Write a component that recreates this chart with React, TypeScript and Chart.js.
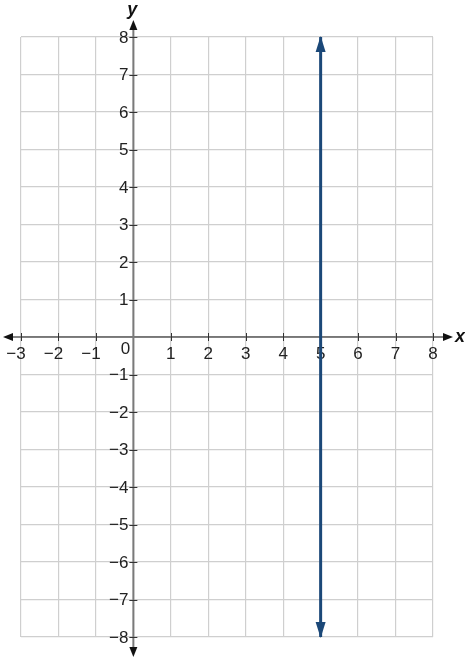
import React, { useEffect, useRef } from "react";
import { Chart, registerables } from "chart.js";

Chart.register(...registerables);

// Axis ranges
const xMin = -3;
const xMax = 8;
const yMin = -8;
const yMax = 8;

// Tick labels
const xTickValues = [-3, -2, -1, 1, 2, 3, 4, 5, 6, 7, 8];
const yTickValues = [-8, -7, -6, -5, -4, -3, -2, -1, 1, 2, 3, 4, 5, 6, 7, 8];
const originLabel = "0";
const xAxisTitle = "x";
const yAxisTitle = "y";

// Series: vertical line x = 5
const lineXs = [5, 5];
const lineYs = [-8, 8];

const LINE_COLOR = "#1b4878";
const GRID_COLOR = "#cfcfcf";
const FONT = "Liberation Sans, Arial, sans-serif";

const fmt = (v: number) => (v < 0 ? "\u2212" + Math.abs(v) : String(v));

const axesPlugin = {
  id: "axesPlugin",
  beforeDatasetsDraw(chart: any) {
    const { ctx, chartArea, scales } = chart;
    const xs = scales.x;
    const ys = scales.y;
    const x0 = xs.getPixelForValue(0);
    const y0 = ys.getPixelForValue(0);
    ctx.save();
    // x axis
    const xl = chartArea.left - 18;
    const xr = chartArea.right + 20;
    ctx.strokeStyle = "#5a5a5a";
    ctx.lineWidth = 1.5;
    ctx.beginPath();
    ctx.moveTo(xl + 6, y0);
    ctx.lineTo(xr - 6, y0);
    ctx.stroke();
    ctx.fillStyle = "#111";
    ctx.beginPath();
    ctx.moveTo(xl, y0);
    ctx.lineTo(xl + 10, y0 - 4);
    ctx.lineTo(xl + 10, y0 + 4);
    ctx.closePath();
    ctx.fill();
    ctx.beginPath();
    ctx.moveTo(xr, y0);
    ctx.lineTo(xr - 10, y0 - 4);
    ctx.lineTo(xr - 10, y0 + 4);
    ctx.closePath();
    ctx.fill();
    // y axis
    const yt = chartArea.top - 17;
    const yb = chartArea.bottom + 20;
    ctx.strokeStyle = "#7a7a7a";
    ctx.lineWidth = 2;
    ctx.beginPath();
    ctx.moveTo(x0, yt + 6);
    ctx.lineTo(x0, yb - 6);
    ctx.stroke();
    ctx.fillStyle = "#111";
    ctx.beginPath();
    ctx.moveTo(x0, yt);
    ctx.lineTo(x0 - 4, yt + 10);
    ctx.lineTo(x0 + 4, yt + 10);
    ctx.closePath();
    ctx.fill();
    ctx.beginPath();
    ctx.moveTo(x0, yb);
    ctx.lineTo(x0 - 4, yb - 10);
    ctx.lineTo(x0 + 4, yb - 10);
    ctx.closePath();
    ctx.fill();

    // tick marks
    ctx.strokeStyle = "#333";
    ctx.lineWidth = 1;
    xTickValues.forEach((v) => {
      const px = Math.round(xs.getPixelForValue(v)) + 0.5;
      ctx.beginPath();
      ctx.moveTo(px, y0 - 4);
      ctx.lineTo(px, y0 + 4);
      ctx.stroke();
    });
    yTickValues.forEach((v) => {
      const py = Math.round(ys.getPixelForValue(v)) + 0.5;
      ctx.beginPath();
      ctx.moveTo(x0 - 4, py);
      ctx.lineTo(x0 + 4, py);
      ctx.stroke();
    });

    // tick labels
    ctx.fillStyle = "#222";
    ctx.font = `17px ${FONT}`;
    ctx.textBaseline = "middle";
    const digitW = ctx.measureText("0").width;
    ctx.textAlign = "right";
    xTickValues.forEach((v) => {
      const px = xs.getPixelForValue(v);
      ctx.fillText(fmt(v), px + digitW / 2, y0 + 17);
    });
    yTickValues.forEach((v) => {
      const py = ys.getPixelForValue(v);
      ctx.fillText(fmt(v), x0 - 5, py + 1);
    });
    ctx.textAlign = "center";
    ctx.fillText(originLabel, x0 - 8, y0 + 12);

    // axis titles
    ctx.font = `italic bold 18px ${FONT}`;
    ctx.fillStyle = "#111";
    ctx.fillText(xAxisTitle, xr + 7, y0);
    ctx.fillText(yAxisTitle, x0 - 1, yt - 10);
    ctx.restore();
  },
  afterDatasetsDraw(chart: any) {
    const { ctx } = chart;
    const meta = chart.getDatasetMeta(0);
    const pts = meta.data;
    if (!pts || pts.length < 2) return;
    ctx.save();
    ctx.fillStyle = LINE_COLOR;
    const drawHead = (tip: any, from: any) => {
      const dx = tip.x - from.x;
      const dy = tip.y - from.y;
      const len = Math.hypot(dx, dy) || 1;
      const ux = dx / len;
      const uy = dy / len;
      const tx = tip.x + ux * 1;
      const ty = tip.y + uy * 1;
      const bx = tx - ux * 16;
      const by = ty - uy * 16;
      ctx.beginPath();
      ctx.moveTo(tx, ty);
      ctx.lineTo(bx - uy * 5, by + ux * 5);
      ctx.lineTo(bx + uy * 5, by - ux * 5);
      ctx.closePath();
      ctx.fill();
    };
    drawHead(pts[0], pts[1]);
    drawHead(pts[pts.length - 1], pts[pts.length - 2]);
    ctx.restore();
  },
};

export default function App() {
  const ref = useRef<HTMLCanvasElement | null>(null);
  useEffect(() => {
    if (!ref.current) return;
    const data = lineXs.map((x, i) => ({ x, y: lineYs[i] }));
    const chart = new Chart(ref.current, {
      type: "scatter",
      data: {
        datasets: [
          {
            data,
            showLine: true,
            borderColor: LINE_COLOR,
            borderWidth: 3,
            pointRadius: 0,
            fill: false,
          },
        ],
      },
      options: {
        animation: false,
        responsive: false,
        devicePixelRatio: window.devicePixelRatio || 1,
        layout: { padding: { left: 21, right: 32, top: 37, bottom: 23 } },
        plugins: { legend: { display: false }, tooltip: { enabled: false } },
        scales: {
          x: {
            type: "linear",
            min: xMin,
            max: xMax,
            ticks: { display: false, stepSize: 1 },
            grid: { color: GRID_COLOR, lineWidth: 1.2, drawTicks: false },
            border: { display: false },
            afterFit: (s: any) => {
              s.height = 0;
            },
          },
          y: {
            type: "linear",
            min: yMin,
            max: yMax,
            ticks: { display: false, stepSize: 1 },
            grid: { color: GRID_COLOR, lineWidth: 1.2, drawTicks: false },
            border: { display: false },
            afterFit: (s: any) => {
              s.width = 0;
            },
          },
        },
      },
      plugins: [axesPlugin],
    });
    return () => chart.destroy();
  }, []);
  return (
    <div style={{ position: "fixed", left: 0, top: 0, width: 465, height: 660, background: "#fff" }}>
      <canvas ref={ref} width={465} height={660} style={{ width: 465, height: 660, display: "block" }} />
    </div>
  );
}
